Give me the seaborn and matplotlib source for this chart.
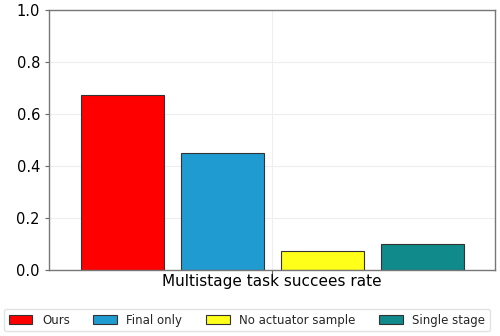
import matplotlib
matplotlib.use("Agg")
import matplotlib.pyplot as plt
import seaborn as sns
import pandas as pd

methods = ["Ours", "Final only", "No actuator sample", "Single stage"]
values = [0.675, 0.45, 0.075, 0.10]
colors = ["#ff0000", "#1f9bd1", "#ffff1a", "#108a8a"]
category = ["Multistage task succees rate"] * 4

df = pd.DataFrame({"cat": category, "method": methods, "value": values})

sns.set_style("white")
plt.rcParams['font.family'] = ['DejaVu Sans']
fig, ax = plt.subplots(figsize=(5, 3.36), dpi=100)
sns.barplot(data=df, x="cat", y="value", hue="method", hue_order=methods,
            palette=colors, saturation=1, edgecolor="#333333", linewidth=0.8,
            gap=0.17, ax=ax, legend=True)
ax.set_ylim(0, 1.0)
ax.set_xlim(-0.446, 0.446)
ax.set_yticks([0, 0.2, 0.4, 0.6, 0.8, 1.0])
ax.set_yticklabels(["0.0", "0.2", "0.4", "0.6", "0.8", "1.0"], fontsize=10.5, color="black")
ax.set_xticks([0])
ax.set_xticklabels([])
ax.set_xlabel("Multistage task succees rate", fontsize=11, labelpad=-4, color="black")
ax.set_ylabel("")
ax.grid(True, color="#eeeeee", linewidth=0.8)
ax.set_axisbelow(True)
ax.tick_params(axis="both", length=3, color="#666666", bottom=True, left=True)
for s in ax.spines.values():
    s.set_color("#777777")
    s.set_linewidth(1.0)
ax.get_legend().remove()
handles, labels = ax.get_legend_handles_labels()
fig.legend(handles, labels, loc="lower center", ncol=4, fontsize=8.5,
           bbox_to_anchor=(0.494, 0.0), frameon=True, handlelength=2.0,
           handletextpad=0.8, columnspacing=2.0, borderaxespad=0.4,
           edgecolor="#dddddd")
fig.subplots_adjust(left=0.098, right=0.99, top=0.97, bottom=0.196)
fig.savefig("out.png", dpi=100)
